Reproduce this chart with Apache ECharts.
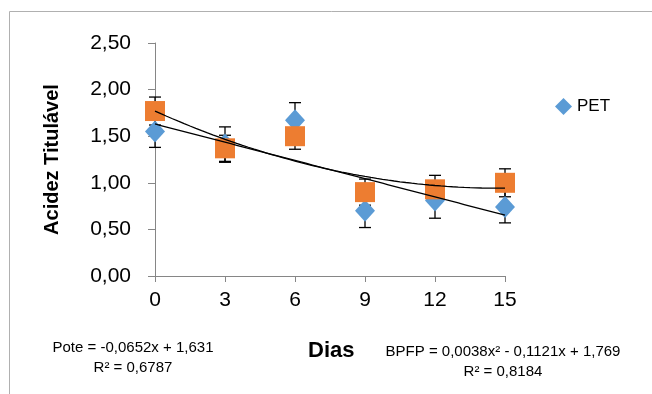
<!DOCTYPE html>
<html>
<head>
<meta charset="utf-8">
<script src="https://cdn.jsdelivr.net/npm/echarts@6/dist/echarts.min.js"></script>
<style>
  html, body { margin: 0; padding: 0; background: #fff; }
  #chart { width: 652px; height: 394px; }
</style>
</head>
<body>
<div id="chart"></div>
<script>
// dados
const dias = [0, 3, 6, 9, 12, 15]
const pet = [1.55, 1.41, 1.67, 0.70, 0.81, 0.74]
const petErro = [0.17, 0.19, 0.19, 0.18, 0.19, 0.17]
const bpfp = [1.77, 1.37, 1.50, 0.90, 0.93, 1.00]
const bpfpErro = [0.15, 0.14, 0.14, 0.14, 0.15, 0.15]
const yTicks = [0, 0.5, 1, 1.5, 2, 2.5]

// coeficientes das linhas de tendência (equações do próprio gráfico)
const poteCoef = [1.631, -0.0652]          // a0 + a1*x
const bpfpCoef = [1.769, -0.1121, 0.0038]  // a0 + a1*x + a2*x²

const font = 'Liberation Sans'
let chart = undefined

function poly(coef, x) {
  return coef.reduce((s, c, i) => s + c * Math.pow(x, i), 0)
}

function trendPoints(coef) {
  const pts = []
  for (let x = 0; x <= 15; x += 0.25) pts.push([x, poly(coef, x)])
  return pts
}

function errorSeries(vals, errs) {
  return {
    type: 'custom',
    z: 1,
    silent: true,
    data: dias.map((d, i) => [d, vals[i] - errs[i], vals[i] + errs[i]]),
    renderItem: function (params, api) {
      const lo = api.coord([api.value(0), api.value(1)])
      const hi = api.coord([api.value(0), api.value(2)])
      const w = 6
      const st = { stroke: '#000', lineWidth: 1.3 }
      return {
        type: 'group',
        children: [
          { type: 'line', shape: { x1: lo[0], y1: lo[1], x2: hi[0], y2: hi[1] }, style: st },
          { type: 'line', shape: { x1: lo[0] - w, y1: lo[1], x2: lo[0] + w, y2: lo[1] }, style: st },
          { type: 'line', shape: { x1: hi[0] - w, y1: hi[1], x2: hi[0] + w, y2: hi[1] }, style: st }
        ]
      }
    }
  }
}

function initChart() {
  chart = echarts.init(document.getElementById('chart'))

  const option = {
    animation: false,
    textStyle: { fontFamily: font },
    grid: { left: 155, top: 43, width: 350, height: 233 },
    legend: {
      data: ['PET'],
      left: 550, top: 93,
      itemWidth: 17, itemHeight: 17, itemGap: 4,
      textStyle: { fontFamily: font, fontSize: 17, color: '#000' }
    },
    xAxis: {
      type: 'value',
      min: 0, max: 15, interval: 3,
      axisLine: { lineStyle: { color: '#868686' } },
      axisTick: { length: 6, lineStyle: { color: '#868686' } },
      splitLine: { show: false },
      axisLabel: { margin: 14, fontSize: 21, color: '#000', fontFamily: font }
    },
    yAxis: {
      type: 'value',
      min: yTicks[0], max: yTicks[yTicks.length - 1], interval: 0.5,
      name: 'Acidez Titulável',
      nameLocation: 'middle',
      nameGap: 93,
      nameTextStyle: { fontSize: 20, fontWeight: 'bold', color: '#000', fontFamily: font },
      axisLine: { show: true, lineStyle: { color: '#868686' } },
      axisTick: { show: true, length: 7, lineStyle: { color: '#868686' } },
      splitLine: { show: false },
      axisLabel: {
        margin: 24, fontSize: 21, color: '#000', fontFamily: font,
        formatter: v => v.toFixed(2).replace('.', ',')
      }
    },
    series: [
      errorSeries(pet, petErro),
      errorSeries(bpfp, bpfpErro),
      {
        name: 'PET',
        type: 'scatter',
        z: 2,
        symbol: 'diamond',
        symbolSize: [20, 22],
        itemStyle: { color: '#5B9BD5', opacity: 1 },
        data: dias.map((d, i) => [d, pet[i]])
      },
      {
        name: 'BPFP',
        type: 'scatter',
        z: 3,
        symbol: 'rect',
        symbolSize: 20,
        itemStyle: { color: '#ED7D31', opacity: 1 },
        data: dias.map((d, i) => [d, bpfp[i]])
      },
      {
        name: 'Pote tendência',
        type: 'line',
        z: 4,
        symbol: 'none',
        lineStyle: { color: '#000', width: 1.3 },
        data: trendPoints(poteCoef)
      },
      {
        name: 'BPFP tendência',
        type: 'line',
        z: 4,
        symbol: 'none',
        lineStyle: { color: '#000', width: 1.3 },
        data: trendPoints(bpfpCoef)
      }
    ],
    graphic: [
      {
        type: 'rect', silent: true,
        shape: { x: 9.5, y: 11.5, width: 700, height: 500 },
        style: { fill: 'none', stroke: '#b0b0b0', lineWidth: 1 }
      },
      {
        type: 'text', left: 308, top: 340,
        style: { text: 'Dias', font: 'bold 22px ' + font, fill: '#000' }
      },
      {
        type: 'text', x: 133, y: 358,
        style: { text: 'Pote = -0,0652x + 1,631\nR² = 0,6787', font: '15px ' + font, fill: '#000', align: 'center', verticalAlign: 'middle', lineHeight: 20 }
      },
      {
        type: 'text', x: 503, y: 362,
        style: { text: 'BPFP = 0,0038x² - 0,1121x + 1,769\nR² = 0,8184', font: '15px ' + font, fill: '#000', align: 'center', verticalAlign: 'middle', lineHeight: 20 }
      }
    ]
  }

  chart.setOption(option)
}

initChart()
</script>
</body>
</html>
